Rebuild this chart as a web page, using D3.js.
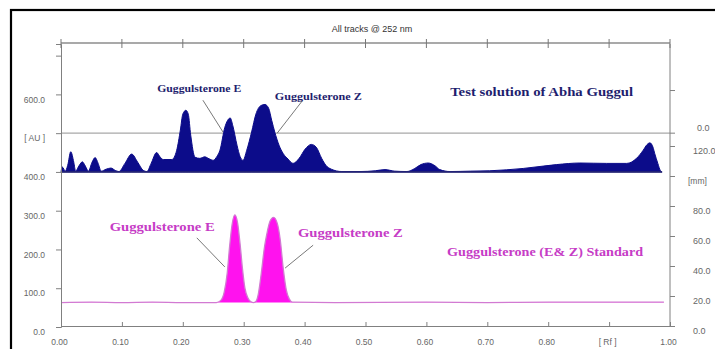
<!DOCTYPE html>
<html>
<head>
<meta charset="utf-8">
<script src="https://cdn.jsdelivr.net/npm/d3@7"></script>
<style>
  body { margin: 0; background: #fff; }
  svg { display: block; }
</style>
</head>
<body>
<script>
// axis ticks
const rfTicks = [0, 0.1, 0.2, 0.3, 0.4, 0.5, 0.6, 0.7, 0.8, 0.9, 1.0];
const auTicks = [0, 100, 200, 300, 400, 500, 600, 700];
const mmTicks = [0, 20, 40, 60, 80, 100, 120];
const topTrackTicks = [500, 610]; // extra right ticks of the upper track (AU)

// Test solution of Abha Guggul  [Rf, AU]
const testTrack = [
  [0.000, 400], [0.002, 413], [0.007, 402], [0.011, 417], [0.016, 452], [0.021, 425],
  [0.024, 402], [0.030, 417], [0.035, 426], [0.040, 415], [0.045, 402], [0.051, 425],
  [0.056, 437], [0.061, 422], [0.066, 402], [0.074, 407], [0.082, 410], [0.089, 404],
  [0.095, 401], [0.105, 422], [0.116, 446], [0.126, 425], [0.135, 404], [0.141, 401],
  [0.148, 422], [0.157, 450], [0.163, 438], [0.168, 432], [0.182, 432], [0.190, 456],
  [0.196, 508], [0.200, 549], [0.205, 559], [0.209, 549], [0.213, 495], [0.220, 438],
  [0.228, 435], [0.236, 439], [0.243, 434], [0.250, 430], [0.256, 440], [0.261, 456],
  [0.269, 515], [0.278, 539], [0.282, 520], [0.289, 469], [0.294, 440], [0.299, 430],
  [0.305, 456], [0.313, 503], [0.320, 549], [0.328, 571], [0.335, 574], [0.341, 564],
  [0.346, 533], [0.351, 503], [0.358, 469], [0.365, 447], [0.373, 433], [0.381, 422],
  [0.391, 435], [0.401, 459], [0.411, 471], [0.419, 464], [0.428, 435], [0.435, 417],
  [0.444, 407], [0.461, 401], [0.491, 401], [0.516, 403], [0.532, 406], [0.548, 402],
  [0.568, 401], [0.581, 409], [0.591, 419], [0.603, 423], [0.614, 416], [0.622, 406],
  [0.639, 401], [0.672, 402], [0.704, 403], [0.759, 409], [0.814, 419], [0.852, 423],
  [0.896, 422], [0.929, 422], [0.945, 435], [0.956, 456], [0.962, 470], [0.967, 475],
  [0.972, 464], [0.975, 447], [0.980, 422], [0.984, 404], [0.987, 400]
];

// Guggulsterone (E & Z) standard  [Rf, AU]
const standardTrack = [
  [0.000, 63], [0.050, 64], [0.100, 63], [0.150, 64], [0.200, 63], [0.255, 63],
  [0.262, 68], [0.268, 90], [0.273, 140], [0.277, 210], [0.281, 265], [0.2855, 289],
  [0.290, 268], [0.294, 215], [0.298, 150], [0.302, 100], [0.307, 75], [0.312, 65],
  [0.316, 63], [0.320, 66], [0.324, 85], [0.329, 140], [0.334, 205], [0.338, 240],
  [0.343, 272], [0.349, 283], [0.355, 268], [0.360, 225], [0.365, 150], [0.370, 95],
  [0.375, 72], [0.380, 64], [0.450, 63], [0.600, 64], [0.700, 63], [0.800, 64],
  [0.900, 64], [0.990, 64]
];

const width = 715, height = 349;
const navy = "#0c0c8a", magenta = "#ff12ee";
const axisGrey = "#808080", labelGrey = "#666";

const svg = d3.select("body").append("svg")
  .attr("width", width)
  .attr("height", height);

const x = d3.scaleLinear().domain([0, 1]).range([61, 670]);
const yAU = d3.scaleLinear().domain([0, 730]).range([327, 44]);
const yMm = d3.scaleLinear().domain([0, 120]).range([326, 146]);

// outer frame (runs off the right / bottom edge)
svg.append("rect")
  .attr("x", 11).attr("y", 10)
  .attr("width", 740).attr("height", 400)
  .attr("fill", "none").attr("stroke", "#000").attr("stroke-width", 2.2);

svg.append("text")
  .attr("x", 372).attr("y", 32)
  .attr("text-anchor", "middle")
  .attr("font-family", "Liberation Sans, Arial, sans-serif")
  .attr("font-size", 9)
  .attr("fill", "#333")
  .text("All tracks @ 252 nm");

// grey line at 500 AU in the upper track
svg.append("line")
  .attr("x1", x(0)).attr("x2", x(1))
  .attr("y1", yAU(500)).attr("y2", yAU(500))
  .attr("stroke", "#a8a8a8").attr("stroke-width", 1.3);

// tracks
const testArea = d3.area()
  .x(d => x(d[0]))
  .y0(yAU(400))
  .y1(d => yAU(d[1]))
  .curve(d3.curveMonotoneX);
svg.append("path")
  .datum(testTrack)
  .attr("d", testArea)
  .attr("fill", navy)
  .attr("stroke", navy)
  .attr("stroke-width", 1);
svg.append("line")
  .attr("x1", x(0)).attr("x2", x(0.987))
  .attr("y1", yAU(400)).attr("y2", yAU(400))
  .attr("stroke", "#2a2a70").attr("stroke-width", 1.4);

const stdArea = d3.area()
  .x(d => x(d[0]))
  .y0(yAU(63))
  .y1(d => yAU(d[1]))
  .curve(d3.curveMonotoneX);
svg.append("path")
  .datum(standardTrack)
  .attr("d", stdArea)
  .attr("fill", magenta);
svg.append("path")
  .datum(standardTrack)
  .attr("d", d3.line().x(d => x(d[0])).y(d => yAU(d[1])).curve(d3.curveMonotoneX))
  .attr("fill", "none")
  .attr("stroke", "#d27ad2")
  .attr("stroke-width", 1.3);

// axes
function styleAxis(g) {
  g.select(".domain").attr("stroke", axisGrey);
  g.selectAll(".tick line").attr("stroke", axisGrey);
  g.selectAll(".tick text")
    .attr("fill", labelGrey)
    .attr("font-family", "Liberation Sans, Arial, sans-serif")
    .attr("font-size", 8.5);
}

const leftAxis = svg.append("g")
  .attr("transform", `translate(${x(0)},0)`)
  .call(d3.axisLeft(yAU).tickValues(auTicks).tickSizeOuter(0).tickSize(5).tickPadding(11)
    .tickFormat(d => d === 500 ? "[ AU ]" : d === 700 ? "" : d.toFixed(1)))
  .call(styleAxis);
leftAxis.selectAll(".tick text").attr("y", 5);

const rightAxis = svg.append("g")
  .attr("transform", `translate(${x(1)},0)`)
  .call(d3.axisRight(yMm).tickValues(mmTicks).tickSizeOuter(0).tickSize(5).tickPadding(18)
    .tickFormat(d => d === 100 ? "[mm]" : d.toFixed(1)))
  .call(styleAxis);
rightAxis.selectAll(".tick text").attr("y", 5).attr("font-size", 9);
rightAxis.selectAll(".tick text").filter(d => d === 100).attr("x", 18).attr("font-size", 8.5);
rightAxis.select(".domain").attr("d", `M0,${yAU(730)}V${yMm(0)}`);

const rightTop = svg.append("g").attr("transform", `translate(${x(1)},0)`);
rightTop.selectAll("line").data(topTrackTicks).join("line")
  .attr("x1", 0).attr("x2", 5)
  .attr("y1", d => yAU(d)).attr("y2", d => yAU(d))
  .attr("stroke", axisGrey);
rightTop.selectAll("text").data(topTrackTicks.filter(d => d === 500)).join("text")
  .attr("x", 27).attr("y", d => yAU(d) - 5)
  .attr("dy", "0.32em")
  .attr("fill", labelGrey)
  .attr("font-family", "Liberation Sans, Arial, sans-serif")
  .attr("font-size", 9)
  .text("0.0");

const bottomAxis = svg.append("g")
  .attr("transform", `translate(0,${yAU(0) - 1})`)
  .call(d3.axisBottom(x).tickValues(rfTicks).tickSizeOuter(0).tickSize(-4).tickPadding(13)
    .tickFormat(d => Math.abs(d - 0.9) < 1e-9 ? "[ Rf ]" : d.toFixed(2)))
  .call(styleAxis);
bottomAxis.selectAll(".tick text").attr("x", -2);

const topAxis = svg.append("g");
topAxis.append("line")
  .attr("x1", x(0)).attr("x2", x(1))
  .attr("y1", yAU(730) - 1).attr("y2", yAU(730) - 1)
  .attr("stroke", "#555").attr("stroke-width", 1.2);
topAxis.selectAll(".tt").data(rfTicks).join("line")
  .attr("class", "tt")
  .attr("x1", d => x(d)).attr("x2", d => x(d))
  .attr("y1", yAU(730) - 5).attr("y2", yAU(730) + 4)
  .attr("stroke", "#777");

// annotations
function note(txt, rf, au, len, size, color) {
  svg.append("text")
    .attr("x", x(rf)).attr("y", yAU(au))
    .attr("font-family", "Liberation Serif, DejaVu Serif, serif")
    .attr("font-weight", "bold")
    .attr("font-size", size)
    .attr("fill", color)
    .attr("textLength", len)
    .attr("lengthAdjust", "spacingAndGlyphs")
    .text(txt);
}
function leader(rf1, au1, rf2, au2) {
  svg.append("line")
    .attr("x1", x(rf1)).attr("y1", yAU(au1))
    .attr("x2", x(rf2)).attr("y2", yAU(au2))
    .attr("stroke", "#555").attr("stroke-width", 0.8);
}

const navyText = "#1e1e6e", pinkText = "#c63cc6";
note("Guggulsterone E", 0.158, 606, 84, 10, navyText);
note("Guggulsterone Z", 0.351, 585, 87, 10, navyText);
note("Test solution of Abha Guggul", 0.639, 596, 183, 12, navyText);
leader(0.233, 585, 0.266, 503);
leader(0.396, 583, 0.355, 500);

note("Guggulsterone E", 0.080, 248, 105, 12.5, pinkText);
note("Guggulsterone Z", 0.389, 232, 105, 12.5, pinkText);
note("Guggulsterone (E& Z) Standard", 0.634, 183, 196, 12, pinkText);
leader(0.223, 230, 0.269, 155);
leader(0.414, 211, 0.368, 152);
</script>
</body>
</html>
